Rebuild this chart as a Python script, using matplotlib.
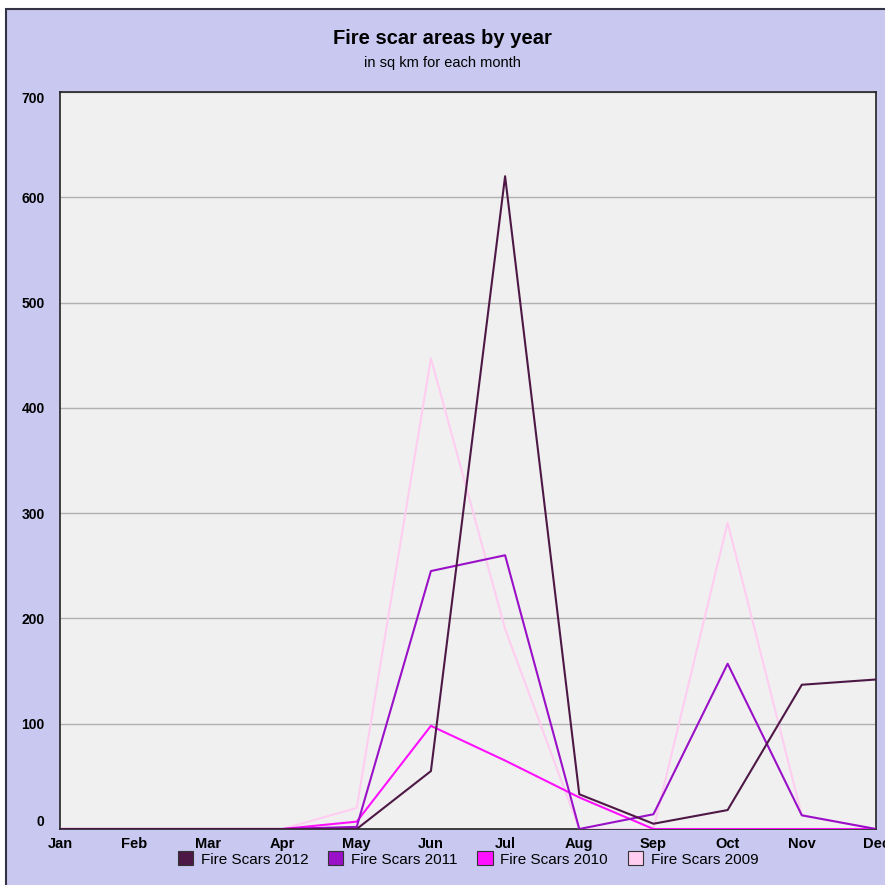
import numpy as np
import matplotlib.pyplot as plt
from matplotlib.patches import Rectangle, Patch

months = ["Jan", "Feb", "Mar", "Apr", "May", "Jun", "Jul", "Aug", "Sep", "Oct", "Nov", "Dec"]
scars_2012 = [0, 0, 0, 0, 0, 55, 620, 33, 5, 18, 137, 142]
scars_2011 = [0, 0, 0, 0, 2, 245, 260, 0, 14, 157, 13, 0]
scars_2010 = [0, 0, 0, 0, 7, 98, 65, 30, 0, 0, 0, 0]
scars_2009 = [0, 0, 0, 0, 20, 447, 190, 0, 0, 291, 13, 0]

series = [("Fire Scars 2012", scars_2012, "#4e1846"),
          ("Fire Scars 2011", scars_2011, "#9a10c8"),
          ("Fire Scars 2010", scars_2010, "#ff10ff"),
          ("Fire Scars 2009", scars_2009, "#ffcdf0")]

plt.rcParams['font.family'] = ['Liberation Sans', 'DejaVu Sans']

fig = plt.figure(figsize=(8.85, 8.85), dpi=100)
fig.patch.set_facecolor("white")
fig.patches.append(Rectangle((6/885, -0.01), 1.0, 1 - 9/885 + 0.01, transform=fig.transFigure,
                             facecolor="#c8c8f0", edgecolor="#333344", linewidth=1.5, zorder=-10))

ax = fig.add_axes([60/885, 1 - 829/885, 816/885, 737/885])
ax.set_facecolor("#f0f0f0")
x = np.arange(len(months))
# draw oldest first so the 2012 line sits on top
for label, vals, col in series[::-1]:
    ax.plot(x, vals, color=col, linewidth=1.5, zorder=3)

ax.set_xlim(0, 11)
ax.set_ylim(0, 700)
ax.set_yticks(np.arange(0, 701, 100))
ax.set_xticks(x)
ax.set_xticklabels(months, fontweight="bold", fontsize=10.5)
ax.set_yticklabels([str(v) for v in range(0, 701, 100)], fontweight="bold", fontsize=10)
ax.tick_params(axis="x", length=0, pad=6)
ax.tick_params(axis="y", length=0, pad=11)
ax.grid(axis="y", color="#b0b0b0", linewidth=1)
ax.set_axisbelow(True)
for s in ax.spines.values():
    s.set_color("#222222")
    s.set_linewidth(1.2)
for lab in ax.get_xticklabels():
    lab.set_clip_on(False)
ylabs = ax.get_yticklabels()
ylabs[0].set_verticalalignment("bottom")
ylabs[-1].set_verticalalignment("top")

fig.text(0.5, 1 - 38/885, "Fire scar areas by year", ha="center", va="center",
         fontsize=14.5, fontweight="bold")
fig.text(0.5, 1 - 63/885, "in sq km for each month", ha="center", va="center", fontsize=10.5)

handles = [Patch(facecolor=col, edgecolor="#333333", linewidth=0.8, label=label)
           for label, vals, col in series]
fig.legend(handles=handles, loc="center", bbox_to_anchor=(468/885, 1 - 859/885), ncol=4,
           frameon=False, fontsize=11, handlelength=1.0, handleheight=1.0,
           handletextpad=0.5, columnspacing=1.3)

plt.savefig("out.png", dpi=100, facecolor=fig.get_facecolor())
